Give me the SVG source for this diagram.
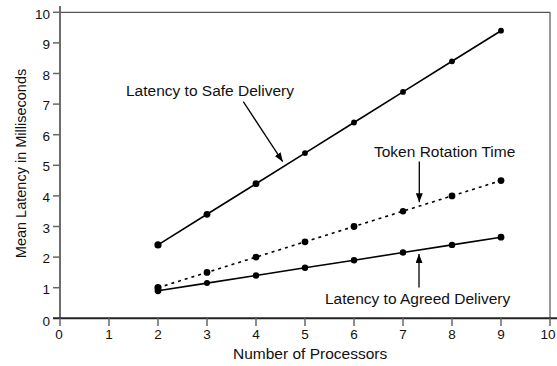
<svg xmlns="http://www.w3.org/2000/svg" width="557" height="366" viewBox="0 0 557 366">
<style>
text{font-family:"Liberation Sans",Arial,Helvetica,sans-serif;fill:#111}
.lbl{font-size:15.5px}
.tk{font-size:13.5px;fill:#222}
.tl{stroke:#666;stroke-width:1.5}
.ln{fill:none;stroke:#000;stroke-width:1.6}
.dot{fill:#000}
</style>
<defs>
<marker id="ah" markerUnits="userSpaceOnUse" markerWidth="10" markerHeight="8" refX="9" refY="3.5" orient="auto"><path d="M0,0 L9,3.5 L0,7 z" fill="#000"/></marker>
</defs>
<g id="axes">
<line x1="60" y1="12.3" x2="550" y2="12.3" stroke="#555" stroke-width="1.2"/>
<line x1="550" y1="12.3" x2="550" y2="318.3" stroke="#555" stroke-width="1.2"/>
<line x1="60" y1="6" x2="60" y2="319" stroke="#6e6e6e" stroke-width="2"/>
<line x1="53" y1="318.3" x2="557" y2="318.3" stroke="#222" stroke-width="2"/>
<g class="tl">
<line x1="53" y1="12.3" x2="60" y2="12.3"/><line x1="53" y1="42.9" x2="60" y2="42.9"/><line x1="53" y1="73.5" x2="60" y2="73.5"/><line x1="53" y1="104.1" x2="60" y2="104.1"/><line x1="53" y1="134.7" x2="60" y2="134.7"/><line x1="53" y1="165.3" x2="60" y2="165.3"/><line x1="53" y1="195.9" x2="60" y2="195.9"/><line x1="53" y1="226.5" x2="60" y2="226.5"/><line x1="53" y1="257.1" x2="60" y2="257.1"/><line x1="53" y1="287.7" x2="60" y2="287.7"/>
<line x1="60" y1="318" x2="60" y2="326"/><line x1="109" y1="318" x2="109" y2="326"/><line x1="158" y1="318" x2="158" y2="326"/><line x1="207" y1="318" x2="207" y2="326"/><line x1="256" y1="318" x2="256" y2="326"/><line x1="305" y1="318" x2="305" y2="326"/><line x1="354" y1="318" x2="354" y2="326"/><line x1="403" y1="318" x2="403" y2="326"/><line x1="452" y1="318" x2="452" y2="326"/><line x1="501" y1="318" x2="501" y2="326"/><line x1="550" y1="318" x2="550" y2="326"/>
</g>
<g class="tk" text-anchor="end">
<text x="50" y="18.5">10</text><text x="50" y="49">9</text><text x="50" y="79.6">8</text><text x="50" y="110.2">7</text><text x="50" y="140.8">6</text><text x="50" y="171.4">5</text><text x="50" y="202">4</text><text x="50" y="232.6">3</text><text x="50" y="263.2">2</text><text x="50" y="293.8">1</text><text x="50" y="325.5">0</text>
</g>
<g class="tk" text-anchor="middle">
<text x="59" y="339">0</text><text x="109" y="339">1</text><text x="158" y="339">2</text><text x="207" y="339">3</text><text x="256" y="339">4</text><text x="305" y="339">5</text><text x="354" y="339">6</text><text x="403" y="339">7</text><text x="452" y="339">8</text><text x="548" y="339">10</text><text x="501" y="339">9</text>
</g>
<text class="lbl" x="233" y="358.5">Number of Processors</text>
<text class="lbl" style="font-size:14.5px" text-anchor="middle" transform="translate(25.5,163.5) rotate(-90)">Mean Latency in Milliseconds</text>
</g>
<g id="connectors">
<polyline class="ln" points="158,244.9 207,214.3 256,183.7 305,153.1 354,122.5 403,91.9 452,61.3 501,30.7"/>
<polyline class="ln" points="158,287.7 207,272.4 256,257.1 305,241.8 354,226.5 403,211.2 452,195.9 501,180.6" stroke-dasharray="3 4"/>
<polyline class="ln" points="158,290.8 207,283.1 256,275.5 305,267.8 354,260.2 403,252.5 452,244.9 501,237.2"/>
<line x1="243.3" y1="101.7" x2="282.7" y2="161.7" stroke="#000" stroke-width="1.3" marker-end="url(#ah)"/>
<line x1="419.3" y1="161.5" x2="419.3" y2="202.3" stroke="#000" stroke-width="1.3" marker-end="url(#ah)"/>
<line x1="419" y1="287.5" x2="419" y2="254" stroke="#000" stroke-width="1.3" marker-end="url(#ah)"/>
</g>
<g id="safe">
<circle class="dot" cx="158" cy="244.9" r="3.6"/><circle class="dot" cx="207" cy="214.3" r="3.4"/><circle class="dot" cx="256" cy="183.7" r="3.4"/><circle class="dot" cx="305" cy="153.1" r="2.9"/><circle class="dot" cx="354" cy="122.5" r="2.9"/><circle class="dot" cx="403" cy="91.9" r="2.9"/><circle class="dot" cx="452" cy="61.3" r="2.9"/><circle class="dot" cx="501" cy="30.7" r="2.9"/>
<text class="lbl" x="126" y="96">Latency to Safe Delivery</text>
</g>
<g id="token">
<circle class="dot" cx="158" cy="287.7" r="3.6"/><circle class="dot" cx="207" cy="272.4" r="3.4"/><circle class="dot" cx="256" cy="257.1" r="3.4"/><circle class="dot" cx="305" cy="241.8" r="3.4"/><circle class="dot" cx="354" cy="226.5" r="3.4"/><circle class="dot" cx="403" cy="211.2" r="3.2"/><circle class="dot" cx="452" cy="195.9" r="3.4"/><circle class="dot" cx="501" cy="180.6" r="3.4"/>
<text class="lbl" x="374" y="157">Token Rotation Time</text>
</g>
<g id="agreed">
<circle class="dot" cx="158" cy="290.8" r="3.4"/><circle class="dot" cx="207" cy="283.1" r="3"/><circle class="dot" cx="256" cy="275.5" r="3.2"/><circle class="dot" cx="305" cy="267.8" r="3.2"/><circle class="dot" cx="354" cy="260.2" r="3.2"/><circle class="dot" cx="403" cy="252.5" r="3.2"/><circle class="dot" cx="452" cy="244.9" r="3.2"/><circle class="dot" cx="501" cy="237.2" r="3.4"/>
<text class="lbl" x="325" y="303.5">Latency to Agreed Delivery</text>
</g>
</svg>
